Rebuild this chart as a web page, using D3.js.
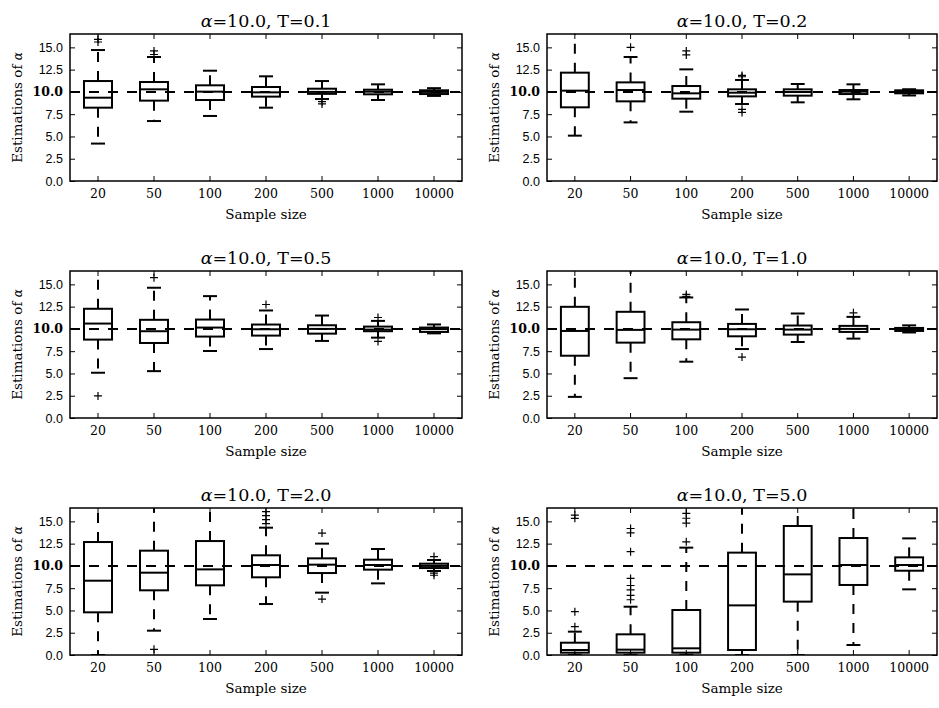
<!DOCTYPE html>
<html>
<head>
<meta charset="utf-8">
<script src="https://cdn.jsdelivr.net/npm/d3@7/dist/d3.min.js"></script>
<style>
  html, body { margin: 0; padding: 0; background: #fff; }
  svg { display: block; }
</style>
</head>
<body>
<svg id="chart" width="939" height="708"></svg>
<script>
// ---------------- data ----------------
const sampleSizes = ["20", "50", "100", "200", "500", "1000", "10000"];
const temperatures = ["0.1", "0.2", "0.5", "1.0", "2.0", "5.0"];
const yTickValues = [0, 2.5, 5, 7.5, 10, 12.5, 15];
const trueAlpha = 10.0;

// each entry: [whiskerLow, q1, median, q3, whiskerHigh]
const statsT01 = [
  [4.2, 8.23, 9.35, 11.22, 14.7],
  [6.73, 9.02, 10.29, 11.11, 13.92],
  [7.3, 9.09, 10.03, 10.74, 12.38],
  [8.23, 9.47, 9.95, 10.55, 11.75],
  [9.2, 9.78, 10.0, 10.36, 11.22],
  [9.09, 9.73, 10.03, 10.25, 10.85],
  [9.55, 9.76, 10.0, 10.18, 10.42]
];
const fliersT01 = [[15.6, 15.9], [14.2, 14.6], [], [], [8.9, 8.65], [], []];

const statsT02 = [
  [5.09, 8.27, 10.14, 12.16, 17.5],
  [6.58, 8.94, 10.21, 11.07, 13.92],
  [7.78, 9.24, 9.84, 10.66, 12.53],
  [8.64, 9.5, 9.91, 10.29, 11.34],
  [8.83, 9.58, 9.99, 10.29, 10.89],
  [9.17, 9.76, 10.03, 10.21, 10.85],
  [9.6, 9.84, 10.0, 10.18, 10.3]
];
const fliersT02 = [[], [15.0], [14.15, 14.6], [11.7, 11.85, 8.05, 7.7], [], [], []];

const statsT05 = [
  [5.08, 8.8, 10.6, 12.26, 17.5],
  [5.26, 8.42, 9.74, 11.02, 14.62],
  [7.52, 9.14, 10.15, 11.05, 13.68],
  [7.74, 9.25, 9.96, 10.49, 12.07],
  [8.65, 9.47, 10.0, 10.41, 11.5],
  [9.02, 9.74, 9.92, 10.26, 10.9],
  [9.5, 9.66, 9.98, 10.15, 10.5]
];
const fliersT05 = [[2.48], [15.75], [], [12.74], [], [11.28, 8.6], []];

const statsT10 = [
  [2.37, 6.99, 9.77, 12.48, 17.5],
  [4.47, 8.46, 9.89, 11.92, 17.5],
  [6.32, 8.83, 9.92, 10.75, 13.53],
  [7.74, 9.17, 9.96, 10.56, 12.18],
  [8.53, 9.36, 9.92, 10.38, 11.73],
  [8.91, 9.66, 10.0, 10.34, 11.35],
  [9.6, 9.77, 9.98, 10.11, 10.4]
];
const fliersT10 = [[], [], [13.87, 13.65], [6.84], [], [11.8], []];

const statsT20 = [
  [0.0, 4.79, 8.34, 12.68, 17.5],
  [2.73, 7.26, 9.24, 11.71, 17.5],
  [4.04, 7.82, 9.61, 12.79, 17.5],
  [5.72, 8.72, 10.1, 11.19, 14.29],
  [7.0, 9.2, 10.14, 10.85, 12.5],
  [8.04, 9.58, 10.1, 10.7, 11.9],
  [9.43, 9.76, 10.0, 10.25, 10.66]
];
const fliersT20 = [[], [0.64], [], [14.75, 15.2, 15.65, 16.1], [13.69, 6.28], [], [11.05, 8.95, 9.2]];

const statsT50 = [
  [0.02, 0.26, 0.56, 1.38, 2.62],
  [0.02, 0.26, 0.6, 2.32, 5.42],
  [0.02, 0.26, 0.75, 5.05, 12.05],
  [0.0, 0.56, 5.57, 11.49, 17.5],
  [0.0, 5.99, 9.05, 14.48, 17.5],
  [1.12, 7.86, 10.1, 13.13, 17.5],
  [7.37, 9.46, 10.1, 10.96, 13.09]
];
const fliersT50 = [
  [3.18, 4.86, 15.34, 15.71],
  [6.2, 6.7, 7.3, 7.8, 8.6, 11.6, 13.7, 14.2],
  [12.7, 14.8, 15.35, 15.9],
  [], [], [], []
];

const panelStats = [statsT01, statsT02, statsT05, statsT10, statsT20, statsT50];
const panelFliers = [fliersT01, fliersT02, fliersT05, fliersT10, fliersT20, fliersT50];

// ---------------- layout ----------------
const colX = [70, 547];
const colW = [392, 390];
const rowY = [34, 271, 508];
const plotH = 147;
const yMax = 16.5;

const serif = "'DejaVu Serif', serif";
const sans = "'Liberation Sans', Arial, sans-serif";

const svg = d3.select("#chart");

panelStats.forEach((stats, pi) => {
  const col = pi % 2, row = Math.floor(pi / 2);
  const x0 = colX[col], y0 = rowY[row], w = colW[col], h = plotH;
  const g = svg.append("g").attr("transform", `translate(${x0},${y0})`);

  const x = d3.scaleBand().domain(sampleSizes).range([0, w]).paddingInner(0).paddingOuter(0);
  const y = d3.scaleLinear().domain([0, yMax]).range([h, 0]);
  const bw = x.bandwidth();
  const boxW = bw * 0.5, capW = bw * 0.25;
  const cx = d => x(d) + bw / 2;

  const clipId = "clip" + pi;
  g.append("clipPath").attr("id", clipId)
    .append("rect").attr("x", 0).attr("y", 0).attr("width", w).attr("height", h);

  const plot = g.append("g").attr("clip-path", `url(#${clipId})`);

  // reference line at true alpha
  plot.append("line")
    .attr("x1", 0).attr("x2", w)
    .attr("y1", y(trueAlpha)).attr("y2", y(trueAlpha))
    .attr("stroke", "#000").attr("stroke-width", 2)
    .attr("stroke-dasharray", "10,9");

  const boxes = plot.selectAll("g.box").data(stats.map((s, i) => ({ s, name: sampleSizes[i], fl: panelFliers[pi][i] })))
    .enter().append("g").attr("class", "box");

  // whiskers (dashed, from box edge outward)
  boxes.append("line")
    .attr("x1", d => cx(d.name)).attr("x2", d => cx(d.name))
    .attr("y1", d => y(d.s[1])).attr("y2", d => y(d.s[0]))
    .attr("stroke", "#000").attr("stroke-width", 2).attr("stroke-dasharray", "10,9");
  boxes.append("line")
    .attr("x1", d => cx(d.name)).attr("x2", d => cx(d.name))
    .attr("y1", d => y(d.s[3])).attr("y2", d => y(d.s[4]))
    .attr("stroke", "#000").attr("stroke-width", 2).attr("stroke-dasharray", "10,9");
  // caps
  [0, 4].forEach(k => {
    boxes.append("line")
      .attr("x1", d => cx(d.name) - capW / 2).attr("x2", d => cx(d.name) + capW / 2)
      .attr("y1", d => y(d.s[k])).attr("y2", d => y(d.s[k]))
      .attr("stroke", "#000").attr("stroke-width", 2);
  });
  // box
  boxes.append("rect")
    .attr("x", d => cx(d.name) - boxW / 2).attr("width", boxW)
    .attr("y", d => y(d.s[3])).attr("height", d => y(d.s[1]) - y(d.s[3]))
    .attr("fill", "none").attr("stroke", "#000").attr("stroke-width", 2);
  // median
  boxes.append("line")
    .attr("x1", d => cx(d.name) - boxW / 2).attr("x2", d => cx(d.name) + boxW / 2)
    .attr("y1", d => y(d.s[2])).attr("y2", d => y(d.s[2]))
    .attr("stroke", "#000").attr("stroke-width", 2);
  // fliers
  boxes.each(function (d) {
    const gg = d3.select(this);
    d.fl.forEach(v => {
      const px = cx(d.name), py = y(v), r = 4;
      gg.append("path")
        .attr("d", `M${px - r},${py}H${px + r}M${px},${py - r}V${py + r}`)
        .attr("stroke", "#000").attr("stroke-width", 1.2).attr("fill", "none");
    });
  });

  // axes (ticks inward on all sides)
  const axB = d3.axisBottom(x).tickSizeInner(-5).tickSizeOuter(0).tickPadding(8);
  const axT = d3.axisTop(x).tickSizeInner(-5).tickSizeOuter(0).tickFormat("");
  const axL = d3.axisLeft(y).tickValues(yTickValues).tickSizeInner(-5).tickSizeOuter(0).tickPadding(7).tickFormat(d3.format(".1f"));
  const axR = d3.axisRight(y).tickValues(yTickValues).tickSizeInner(-5).tickSizeOuter(0).tickFormat("");

  const gB = g.append("g").attr("transform", `translate(0,${h})`).call(axB);
  const gT = g.append("g").call(axT);
  const gL = g.append("g").call(axL);
  const gR = g.append("g").attr("transform", `translate(${w},0)`).call(axR);
  [gB, gT, gL, gR].forEach(a => {
    a.select(".domain").remove();
    a.selectAll(".tick line").attr("stroke", "#000").attr("stroke-width", 1);
  });
  gB.selectAll("text").attr("font-family", serif).attr("font-size", 12.5).attr("fill", "#000");
  gL.selectAll("text")
    .attr("font-family", d => d === trueAlpha ? serif : sans)
    .attr("font-weight", d => d === trueAlpha ? "bold" : "normal")
    .attr("font-size", 12.5).attr("fill", "#000");

  // frame
  g.append("rect").attr("x", 0).attr("y", 0).attr("width", w).attr("height", h)
    .attr("fill", "none").attr("stroke", "#000").attr("stroke-width", 1.5);

  // title
  const title = g.append("text")
    .attr("x", w / 2).attr("y", -7).attr("text-anchor", "middle")
    .attr("font-family", serif).attr("font-size", 17.5).attr("fill", "#000");
  title.append("tspan").attr("font-style", "italic").text("α");
  title.append("tspan").text(`=${trueAlpha.toFixed(1)}, T=${temperatures[pi]}`);

  // x label
  g.append("text")
    .attr("x", w / 2).attr("y", h + 38).attr("text-anchor", "middle")
    .attr("font-family", serif).attr("font-size", 13.5).attr("fill", "#000")
    .text("Sample size");

  // y label
  const yl = g.append("text")
    .attr("transform", `translate(-53,${h / 2}) rotate(-90)`)
    .attr("text-anchor", "middle").attr("dy", "0.35em")
    .attr("font-family", serif).attr("font-size", 13.5).attr("fill", "#000");
  yl.append("tspan").text("Estimations of ");
  yl.append("tspan").attr("font-style", "italic").attr("font-size", 12).text("α");
});
</script>
</body>
</html>
